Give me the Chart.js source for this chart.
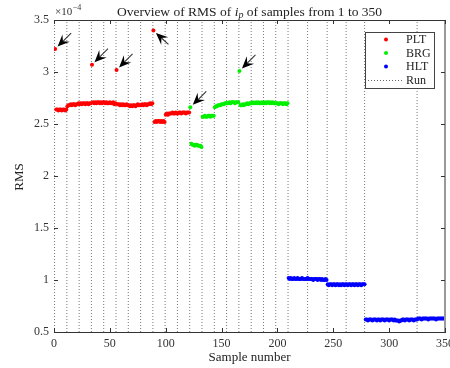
<!DOCTYPE html>
<html>
<head>
<meta charset="utf-8">
<script src="https://cdn.jsdelivr.net/npm/chart.js@4.4.0/dist/chart.umd.min.js"></script>
<style>
  html, body { margin: 0; padding: 0; background: #fff; }
  #wrap { width: 450px; height: 368px; }
</style>
</head>
<body>
<div id="wrap"><canvas id="rmsChart"></canvas></div>
<script>
// RMS of i_p (units of 1e-4), one value per sample
const pltStart = 1;
const pltValues = [
  3.22, 2.64, 2.64, 2.63, 2.64, 2.64, 2.63, 2.64, 2.64, 2.63, 2.64,
  2.67, 2.68, 2.68, 2.69, 2.68, 2.69, 2.69, 2.68, 2.69, 2.69, 2.70,
  2.69, 2.70, 2.69, 2.70, 2.70, 2.69, 2.70, 2.70, 2.69, 2.70, 2.70,
  3.07, 2.71, 2.70, 2.71, 2.70, 2.71, 2.71, 2.70, 2.71, 2.70, 2.71,
  2.71, 2.70, 2.71, 2.70, 2.70, 2.71, 2.70, 2.70, 2.71, 2.69, 2.70,
  3.02, 2.69, 2.69, 2.68, 2.69, 2.68, 2.69, 2.68, 2.68, 2.69, 2.68,
  2.68, 2.67, 2.68, 2.67, 2.68, 2.68, 2.67, 2.68, 2.69, 2.68, 2.68,
  2.68, 2.69, 2.68, 2.69, 2.69, 2.68, 2.69, 2.69, 2.70, 2.69, 2.70,
  3.40, 2.52, 2.53, 2.52, 2.53, 2.53, 2.52, 2.53, 2.52, 2.53, 2.52,
  2.59, 2.60, 2.59, 2.60, 2.60, 2.60, 2.61, 2.60, 2.60, 2.61, 2.60,
  2.60, 2.61, 2.61, 2.60, 2.61, 2.61, 2.61, 2.60, 2.61, 2.61, 2.61
];
const brgStart = 122;
const brgValues = [
  2.66, 2.31, 2.30, 2.30, 2.29, 2.30, 2.30, 2.29, 2.29, 2.29, 2.28,
  2.57, 2.57, 2.58, 2.57, 2.57, 2.58, 2.58, 2.57, 2.58, 2.58, 2.58,
  2.66, 2.67, 2.67, 2.68, 2.68, 2.68, 2.69, 2.69, 2.69, 2.70, 2.70,
  2.70, 2.70, 2.71, 2.70, 2.71, 2.71, 2.71, 2.70, 2.71, 2.71, 2.71,
  3.01, 2.68, 2.68, 2.69, 2.68, 2.69, 2.69, 2.70, 2.69, 2.70, 2.70,
  2.70, 2.71, 2.70, 2.70, 2.71, 2.70, 2.71, 2.70, 2.70, 2.71, 2.70,
  2.70, 2.71, 2.70, 2.71, 2.71, 2.70, 2.71, 2.70, 2.71, 2.70, 2.70,
  2.70, 2.70, 2.69, 2.70, 2.70, 2.70, 2.69, 2.70, 2.70, 2.69, 2.70
];
const hltStart = 210;
const hltValues = [
  1.02, 1.01, 1.02, 1.01, 1.01, 1.02, 1.01, 1.01, 1.02, 1.01,
  1.01, 1.01, 1.02, 1.01, 1.01, 1.01, 1.01, 1.02, 1.01, 1.01,
  1.01, 1.01, 1.00, 1.01, 1.01, 1.01, 1.00, 1.01, 1.01, 1.00,
  1.01, 1.00, 1.00, 1.01, 1.00,
  0.96, 0.95, 0.96, 0.96, 0.95, 0.96, 0.96, 0.95, 0.96, 0.96,
  0.95, 0.96, 0.95, 0.96, 0.96, 0.95, 0.96, 0.96, 0.95, 0.96,
  0.96, 0.95, 0.96, 0.96, 0.95, 0.96, 0.96, 0.95, 0.96, 0.96,
  0.95, 0.96, 0.96, 0.96,
  0.62, 0.62, 0.61, 0.62, 0.62, 0.62, 0.61, 0.62, 0.62, 0.62,
  0.61, 0.62, 0.62, 0.61, 0.62, 0.62, 0.62, 0.61, 0.62, 0.62,
  0.62, 0.61, 0.62, 0.62, 0.62, 0.61, 0.62, 0.61, 0.61, 0.61,
  0.60, 0.61, 0.61, 0.62, 0.62, 0.61, 0.62, 0.62, 0.62, 0.61,
  0.62, 0.62, 0.62, 0.61, 0.62, 0.62, 0.62,
  0.63, 0.63, 0.63, 0.62, 0.63, 0.63, 0.63, 0.63, 0.63, 0.62,
  0.63, 0.63, 0.63, 0.63, 0.63, 0.63, 0.62, 0.63, 0.63, 0.63,
  0.63, 0.63, 0.63, 0.63, 0.63
];
// dotted lines between runs
const runBounds = [0.5, 11.5, 22.5, 33.5, 44.5, 55.5, 66.5, 77.5, 88.5, 99.5, 110.5,
  121.5, 132.5, 143.5, 154.5, 165.5, 176.5, 187.5, 198.5, 209.5, 227, 244.5, 261.5, 278, 325];
// samples marked with an arrow
const arrowSamples = [1, 34, 56, 89, 122, 166];
const arrowFromBelow = [89];
const xTicks = [0, 50, 100, 150, 200, 250, 300, 350];
const yTicks = [0.5, 1, 1.5, 2, 2.5, 3, 3.5];

const FONT = '"Liberation Serif", "Times New Roman", serif';

function toPoints(start, values) {
  return values.map((v, i) => ({ x: start + i, y: v }));
}

function runLinePoints() {
  const pts = [];
  runBounds.forEach(b => {
    pts.push({ x: b, y: yTicks[0] });
    pts.push({ x: b, y: yTicks[yTicks.length - 1] });
    pts.push({ x: b, y: null });
  });
  return pts;
}

function valueAt(sample) {
  if (sample >= hltStart) return hltValues[sample - hltStart];
  if (sample >= brgStart) return brgValues[sample - brgStart];
  return pltValues[sample - pltStart];
}

function drawArrow(ctx, tipX, tipY, tailX, tailY) {
  const ang = Math.atan2(tipY - tailY, tipX - tailX);
  const len = 12, half = 5.2, notch = 7.5;
  const cos = Math.cos(ang), sin = Math.sin(ang);
  const bx = tipX - len * cos, by = tipY - len * sin;
  const nx = tipX - notch * cos, ny = tipY - notch * sin;
  ctx.strokeStyle = '#333';
  ctx.lineWidth = 1.1;
  ctx.beginPath();
  ctx.moveTo(tailX, tailY);
  ctx.lineTo(nx, ny);
  ctx.stroke();
  ctx.fillStyle = '#000';
  ctx.beginPath();
  ctx.moveTo(tipX, tipY);
  ctx.lineTo(bx - half * sin, by + half * cos);
  ctx.lineTo(nx, ny);
  ctx.lineTo(bx + half * sin, by - half * cos);
  ctx.closePath();
  ctx.fill();
}

const decorPlugin = {
  id: 'decor',
  afterDatasetsDraw(chart) {
    const ctx = chart.ctx;
    const a = chart.chartArea;
    const xs = chart.scales.x, ys = chart.scales.y;
    ctx.save();

    // arrows to the outliers
    arrowSamples.forEach(s => {
      const px = xs.getPixelForValue(s), py = ys.getPixelForValue(valueAt(s));
      if (arrowFromBelow.includes(s)) {
        drawArrow(ctx, px + 2.5, py + 2.5, px + 15, py + 14);
      } else {
        drawArrow(ctx, px + 2.5, py - 2.5, px + 16, py - 16);
      }
    });

    // top and right edges of the box
    ctx.strokeStyle = '#333';
    ctx.lineWidth = 1;
    ctx.beginPath();
    ctx.moveTo(a.left, Math.round(a.top) + 0.5);
    ctx.lineTo(a.right, Math.round(a.top) + 0.5);
    ctx.stroke();
    ctx.strokeStyle = '#999';
    ctx.lineWidth = 2;
    ctx.beginPath();
    ctx.moveTo(a.right, a.top);
    ctx.lineTo(a.right, a.bottom);
    ctx.stroke();

    // inward ticks on all four sides
    ctx.strokeStyle = '#333';
    ctx.lineWidth = 1;
    ctx.beginPath();
    xTicks.forEach(v => {
      const x = Math.round(xs.getPixelForValue(v)) + 0.5;
      ctx.moveTo(x, a.bottom); ctx.lineTo(x, a.bottom - 4);
      ctx.moveTo(x, a.top); ctx.lineTo(x, a.top + 4);
    });
    yTicks.forEach(v => {
      const y = Math.round(ys.getPixelForValue(v)) + 0.5;
      ctx.moveTo(a.left, y); ctx.lineTo(a.left + 4, y);
      ctx.moveTo(a.right, y); ctx.lineTo(a.right - 4, y);
    });
    ctx.stroke();

    // legend
    const lx0 = 365, ly0 = 32, lw = 69, lh = 56;
    ctx.fillStyle = '#fff';
    ctx.fillRect(lx0, ly0, lw, lh);
    ctx.strokeStyle = '#444';
    ctx.lineWidth = 1;
    ctx.strokeRect(lx0 + 0.5, ly0 + 0.5, lw, lh);
    ctx.font = '12px ' + FONT;
    ctx.textBaseline = 'middle';
    ctx.textAlign = 'left';
    const rowY = [39.5, 53, 66.5, 80];
    chart.data.datasets.forEach((ds, i) => {
      const y = rowY[i];
      if (ds.showLine) {
        ctx.strokeStyle = '#666';
        ctx.setLineDash([1, 2]);
        ctx.beginPath();
        ctx.moveTo(368, Math.round(y) + 0.5);
        ctx.lineTo(403, Math.round(y) + 0.5);
        ctx.stroke();
        ctx.setLineDash([]);
      } else {
        ctx.fillStyle = ds.backgroundColor;
        ctx.beginPath();
        ctx.arc(386, y, 2, 0, Math.PI * 2);
        ctx.fill();
      }
      ctx.fillStyle = '#222';
      ctx.fillText(ds.label, 406, y + 0.5);
    });

    // title with italic i_p
    const parts = [
      { t: 'Overview of RMS of ', f: '13.5px ' + FONT, dy: 0 },
      { t: 'i', f: 'italic 13.5px ' + FONT, dy: 0 },
      { t: 'p', f: 'italic 10px ' + FONT, dy: 2.5 },
      { t: ' of samples from 1 to 350', f: '13.5px ' + FONT, dy: 0 }
    ];
    let total = 0;
    parts.forEach(p => { ctx.font = p.f; p.w = ctx.measureText(p.t).width; total += p.w; });
    let tx = (a.left + a.right) / 2 - total / 2;
    ctx.fillStyle = '#222';
    ctx.textBaseline = 'alphabetic';
    parts.forEach(p => {
      ctx.font = p.f;
      ctx.fillText(p.t, tx, 15.5 + p.dy);
      tx += p.w;
    });

    // exponent of the y axis
    ctx.fillStyle = '#333';
    ctx.font = '11px ' + FONT;
    ctx.fillText('\u00d710', 55, 15);
    const ew = ctx.measureText('\u00d710').width;
    ctx.font = '8px ' + FONT;
    ctx.fillText('\u22124', 55 + ew + 0.5, 10);

    // axis titles
    ctx.fillStyle = '#222';
    ctx.font = '13px ' + FONT;
    ctx.textAlign = 'center';
    ctx.textBaseline = 'middle';
    ctx.fillText('Sample number', (a.left + a.right) / 2, 358);
    ctx.translate(20, 177);
    ctx.rotate(-Math.PI / 2);
    ctx.fillText('RMS', 0, 0);

    ctx.restore();
  }
};

const pointStyle = { showLine: false, pointRadius: 2, pointBorderWidth: 0, pointHoverRadius: 2, order: 1 };

new Chart(document.getElementById('rmsChart'), {
  type: 'scatter',
  data: {
    datasets: [
      Object.assign({ label: 'PLT', data: toPoints(pltStart, pltValues), backgroundColor: '#ff0000', borderColor: '#ff0000' }, pointStyle),
      Object.assign({ label: 'BRG', data: toPoints(brgStart, brgValues), backgroundColor: '#00f000', borderColor: '#00f000' }, pointStyle),
      Object.assign({ label: 'HLT', data: toPoints(hltStart, hltValues), backgroundColor: '#0000ff', borderColor: '#0000ff' }, pointStyle),
      {
        label: 'Run', data: runLinePoints(), showLine: true, spanGaps: false,
        borderColor: '#777', borderWidth: 1, borderDash: [1, 2], pointRadius: 0, order: 10
      }
    ]
  },
  options: {
    responsive: true,
    maintainAspectRatio: false,
    animation: false,
    layout: { padding: { top: 20, right: 5, left: 0, bottom: 0 } },
    plugins: {
      legend: { display: false },
      tooltip: { enabled: false },
      title: { display: false }
    },
    scales: {
      x: {
        type: 'linear', min: 0, max: 350,
        afterBuildTicks: s => { s.ticks = xTicks.map(v => ({ value: v })); },
        afterFit: s => { s.height = 36; s.paddingLeft = 0; s.paddingRight = 0; },
        grid: { drawOnChartArea: false, drawTicks: false },
        border: { display: true, color: '#333', width: 1 },
        ticks: { padding: 5, color: '#333', font: { family: FONT, size: 12 }, maxRotation: 0 }
      },
      y: {
        type: 'linear', min: 0.5, max: 3.5,
        afterBuildTicks: s => { s.ticks = yTicks.map(v => ({ value: v })); },
        afterFit: s => { s.width = 54; s.paddingTop = 0; s.paddingBottom = 0; },
        grid: { drawOnChartArea: false, drawTicks: false },
        border: { display: false },
        ticks: { padding: 5, color: '#333', font: { family: FONT, size: 12 }, callback: v => String(v) }
      }
    }
  },
  plugins: [decorPlugin]
});
</script>
</body>
</html>
